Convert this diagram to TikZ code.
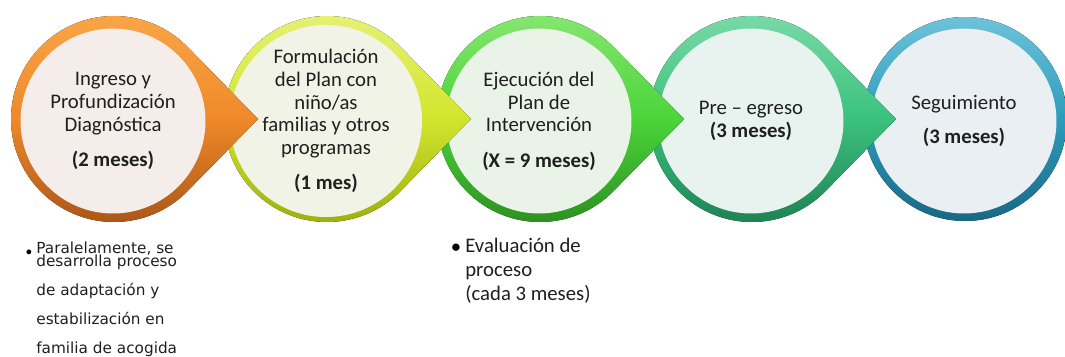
\documentclass[tikz,border=0pt]{standalone}
\usepackage{fontspec}
\setmainfont{Carlito}
\newfontfamily\notefont{DejaVu Sans}
\usetikzlibrary{calc}

\definecolor{orTop}{HTML}{F9A84A}
\definecolor{orMid}{HTML}{F08A2A}
\definecolor{orBot}{HTML}{A85418}
\definecolor{orIn}{HTML}{F4EDE9}
\definecolor{ygTop}{HTML}{E6F27A}
\definecolor{ygMid}{HTML}{D3E62E}
\definecolor{ygBot}{HTML}{9AAE0C}
\definecolor{ygIn}{HTML}{F1F3E6}
\definecolor{grTop}{HTML}{8AE874}
\definecolor{grMid}{HTML}{4CD53A}
\definecolor{grBot}{HTML}{2A8E1E}
\definecolor{grIn}{HTML}{EAF3E8}
\definecolor{tlTop}{HTML}{7EDCAA}
\definecolor{tlMid}{HTML}{3CC27E}
\definecolor{tlBot}{HTML}{1C8052}
\definecolor{tlIn}{HTML}{E8F2EE}
\definecolor{blTop}{HTML}{6EC2DA}
\definecolor{blMid}{HTML}{2E9CBC}
\definecolor{blBot}{HTML}{196884}
\definecolor{blIn}{HTML}{E9EFF2}

\begin{document}
\begin{tikzpicture}[x=0.02cm,y=0.02cm]
  \tikzset{
    stage/.style={
      circle,
      minimum size=3.7cm,
      inner sep=0pt,
      align=center,
      text=black!88,
      font=\fontsize{11.8}{13}\selectfont
    },
    note/.style={
      anchor=north west,
      inner sep=0pt,
      align=left,
      text=black!88
    }
  }
  \useasboundingbox (0,0) rectangle (1065,356);

  % last stage first, so each pointer lies over the next circle
  \fill[top color=blTop, bottom color=blBot, middle color=blMid] (965,237) circle [radius=102];
  \node[stage, fill=blIn] (seg) at (964,235) {Seguimiento\\[6pt]\textbf{(3 meses)}};

  \fill[top color=tlTop, bottom color=tlBot, middle color=tlMid]
    ($(752,237)+(44:103)$) arc[start angle=44, end angle=316, radius=103] -- (896,237) -- cycle;
  \node[stage, fill=tlIn] (pre) at (751,235) {Pre -- egreso\\\textbf{(3 meses)}};

  \fill[top color=grTop, bottom color=grBot, middle color=grMid]
    ($(540,237)+(44:103)$) arc[start angle=44, end angle=316, radius=103] -- (684,237) -- cycle;
  \node[stage, fill=grIn] (eje) at (539,235) {Ejecución del\\Plan de\\Intervención\\[7pt]\textbf{(X = 9 meses)}};

  \fill[top color=ygTop, bottom color=ygBot, middle color=ygMid]
    ($(327,237)+(44:103)$) arc[start angle=44, end angle=316, radius=103] -- (471,237) -- cycle;
  \node[stage, fill=ygIn] (form) at (326,235) {Formulación\\del Plan con\\niño/as\\familias y otros\\programas\\[7pt]\textbf{(1 mes)}};

  \fill[top color=orTop, bottom color=orBot, middle color=orMid]
    ($(114,237)+(44:103)$) arc[start angle=44, end angle=316, radius=103] -- (258,237) -- cycle;
  \node[stage, fill=orIn] (ing) at (113,235) {Ingreso y\\Profundización\\Diagnóstica\\[7pt]\textbf{(2 meses)}};

  % notes under the first and third stage
  \node[note, font=\notefont\fontsize{8.7}{16.4}\selectfont] (par) at (36,114)
    {Paralelamente, se\\[-9pt]desarrolla proceso\\de adaptación y\\estabilización en\\familia de acogida};
  \node[font=\notefont\fontsize{9.4}{10}\selectfont] (parb) at (29,102) {\textbullet};
  \node[note, font=\fontsize{11.8}{13.6}\selectfont] (eva) at (465,118)
    {Evaluación de\\proceso\\(cada 3 meses)};
  \node[font=\fontsize{11.8}{12}\selectfont] (evab) at (456,107) {\textbullet};
\end{tikzpicture}
\end{document}
